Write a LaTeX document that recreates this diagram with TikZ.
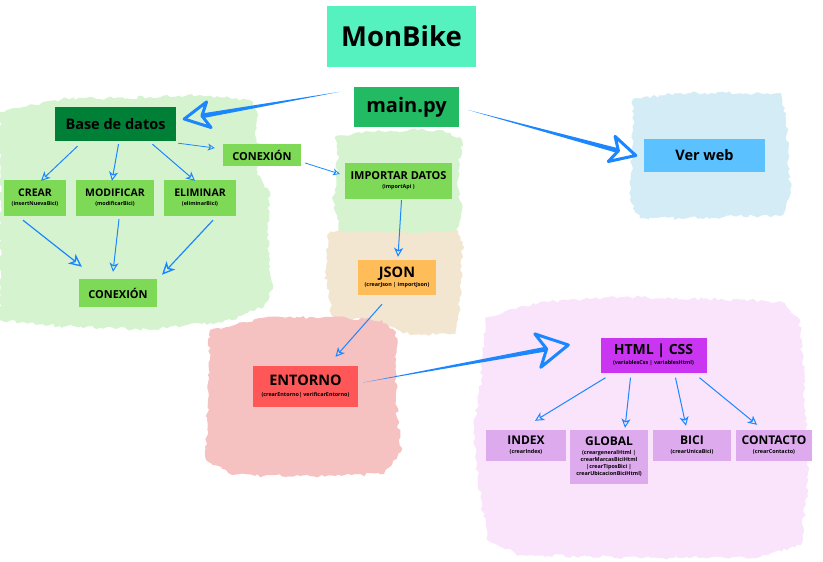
\documentclass[tikz,border=0pt]{standalone}
\usepackage{fontspec}
\setmainfont{Open Sans}
\usetikzlibrary{calc,arrows.meta,decorations.pathmorphing}
\definecolor{cMon}{HTML}{55F2C0}
\definecolor{cMain}{HTML}{23BA64}
\definecolor{cDark}{HTML}{008037}
\definecolor{cGreen}{HTML}{7ED957}
\definecolor{cWeb}{HTML}{5BC2FF}
\definecolor{cJson}{HTML}{FFBD59}
\definecolor{cEnt}{HTML}{FF5757}
\definecolor{cHtml}{HTML}{C935F0}
\definecolor{cLil}{HTML}{DDAAEE}
\definecolor{arrowblue}{HTML}{1C86FF}
\definecolor{bGreen}{HTML}{D6F3D0}
\definecolor{bBeige}{HTML}{F3E6D0}
\definecolor{bPink}{HTML}{F5C1C1}
\definecolor{bLilac}{HTML}{F9E4FC}
\definecolor{bBlue}{HTML}{D3ECF5}
\newcommand{\tinyf}{\fontsize{5.4}{6.5}\selectfont}
\newcommand{\sublbl}[1]{\\[-2pt]{\tinyf #1}}
\newcommand{\fatarrow}[5]{%
  \coordinate (fa-b) at ($(#2)!#3!(#1)$);
  \coordinate (fa-n) at ($(#2)!#5!(#1)$);
  \fill[arrowblue] (#1) -- ($(fa-n)!2.4pt!90:(#2)$) -- ($(fa-n)!2.4pt!-90:(#2)$) -- cycle;
  \draw[arrowblue,line width=3pt,line join=round] (#2) -- ($(fa-b)!#4!90:(#2)$) -- (fa-n) -- ($(fa-b)!#4!-90:(#2)$) -- cycle;
}
\tikzset{
  box/.style={inner sep=0pt, align=center, text=black, font=\bfseries},
  blob/.style={decorate, decoration={random steps, segment length=3.5pt, amplitude=1.8pt}},
  thinarrow/.style={draw=arrowblue, line width=1pt, -{Stealth[open,length=9pt,width=9pt,inset=2.5pt,line width=1pt]}},
  bigthin/.style={draw=arrowblue, line width=1.2pt, -{Stealth[open,length=13pt,width=12pt,inset=3.5pt,line width=1.4pt]}},
  smallthin/.style={draw=arrowblue, line width=0.8pt, -{Stealth[open,length=7pt,width=7pt,inset=2pt,line width=0.8pt]}},
}
\begin{document}
\begin{tikzpicture}[x=1pt,y=-1pt]
\useasboundingbox (0,0) rectangle (823,562);
\fill[white] (0,0) rectangle (823,562);
\pgfmathsetseed{11}
% blobs
\fill[bLilac,blob] (485,318) -- (540,302) -- (620,297) -- (720,299) -- (782,302) -- (800,322) -- (805,400) -- (808,480) -- (801,545) -- (760,557) -- (640,558) -- (520,555) -- (487,540) -- (478,480) -- (474,430) -- (481,380) -- cycle;
\fill[bBeige,blob] (328,234) -- (345,228) -- (455,228) -- (463,242) -- (460,300) -- (456,334) -- (410,335) -- (380,322) -- (332,316) -- (325,272) -- cycle;
\fill[bPink,blob] (210,330) -- (262,318) -- (330,317) -- (382,320) -- (396,332) -- (396,400) -- (401,452) -- (384,474) -- (300,476) -- (232,475) -- (206,460) -- (208,400) -- cycle;
\fill[bGreen,blob] (0,112) -- (40,104) -- (62,99) -- (150,97) -- (200,95) -- (250,100) -- (258,115) -- (255,135) -- (262,152) -- (257,175) -- (270,192) -- (267,232) -- (272,290) -- (264,306) -- (232,320) -- (150,330) -- (60,326) -- (0,320) -- cycle;
\fill[bGreen,blob] (336,136) -- (380,131) -- (440,130) -- (462,140) -- (458,180) -- (462,210) -- (455,232) -- (340,232) -- (333,200) -- (338,160) -- cycle;
\fill[bBlue,blob] (633,99) -- (680,93) -- (781,93) -- (786,120) -- (790,190) -- (783,215) -- (700,218) -- (640,218) -- (630,200) -- (633,140) -- cycle;
% nodes
\node[box,fill=cMon,minimum width=149pt,minimum height=61pt,font=\bfseries\fontsize{27.5}{30}\selectfont] (monbike) at (401.5,36.5) {MonBike};
\node[box,fill=cMain,minimum width=105pt,minimum height=40pt,font=\bfseries\fontsize{20}{24}\selectfont] (mainpy) at (406.5,107) {main.py};
\node[box,fill=cDark,minimum width=121pt,minimum height=34pt,font=\bfseries\fontsize{14.5}{16}\selectfont] (base) at (115.5,124) {Base de datos};
\node[box,fill=cGreen,minimum width=78pt,minimum height=22pt,font=\bfseries\fontsize{11}{12}\selectfont] (conex1) at (262,155) {CONEXIÓN};
\node[box,fill=cGreen,minimum width=62pt,minimum height=36pt,font=\bfseries\fontsize{10.5}{11}\selectfont] (crear) at (35,198) {CREAR\sublbl{(insertNuevaBici)}};
\node[box,fill=cGreen,minimum width=78pt,minimum height=36pt,font=\bfseries\fontsize{10.5}{11}\selectfont] (modif) at (115,198) {MODIFICAR\sublbl{(modificarBici)}};
\node[box,fill=cGreen,minimum width=72pt,minimum height=36pt,font=\bfseries\fontsize{10.5}{11}\selectfont] (elim) at (200,198) {ELIMINAR\sublbl{(eliminarBici)}};
\node[box,fill=cGreen,minimum width=78pt,minimum height=28pt,font=\bfseries\fontsize{11}{12}\selectfont] (conex2) at (118,293) {CONEXIÓN};
\node[box,fill=cGreen,minimum width=107pt,minimum height=36pt,font=\bfseries\fontsize{11}{11}\selectfont] (import) at (398.5,181) {IMPORTAR DATOS\sublbl{(importApi )}};
\node[box,fill=cJson,minimum width=78pt,minimum height=35pt,font=\bfseries\fontsize{14.5}{11}\selectfont] (json) at (397,277.5) {JSON\sublbl{(crearJson | importJson)}};
\node[box,fill=cEnt,minimum width=105pt,minimum height=41pt,font=\bfseries\fontsize{14.5}{13}\selectfont] (entorno) at (305.5,386.5) {ENTORNO\sublbl{(crearEntorno| verificarEntorno)}};
\node[box,fill=cHtml,minimum width=106pt,minimum height=35pt,font=\bfseries\fontsize{14}{12}\selectfont] (html) at (653.5,355) {HTML | CSS\sublbl{(variablesCss | variablesHtml)}};
\node[box,fill=cLil,minimum width=80pt,minimum height=31pt,font=\bfseries\fontsize{12}{11}\selectfont] (index) at (526,445.5) {INDEX\sublbl{(crearIndex)}};
\node[box,fill=cLil,minimum width=78pt,minimum height=54pt,font=\bfseries\fontsize{12}{11}\selectfont] (global) at (609,457) {GLOBAL\\[-2pt]\tinyf (creargeneralHtml |\\[-4pt]\tinyf crearMarcasBiciHtml\\[-4pt]\tinyf |crearTiposBici |\\[-4pt]\tinyf crearUbicacionBiciHtml)};
\node[box,fill=cLil,minimum width=78pt,minimum height=31pt,font=\bfseries\fontsize{12}{11}\selectfont] (bici) at (692,445.5) {BICI\sublbl{(crearUnicaBici)}};
\node[box,fill=cLil,minimum width=76pt,minimum height=31pt,font=\bfseries\fontsize{12}{11}\selectfont] (contacto) at (774,445.5) {CONTACTO\sublbl{(crearContacto)}};
\node[box,fill=cWeb,minimum width=121pt,minimum height=33pt,font=\bfseries\fontsize{14.5}{16}\selectfont] (verweb) at (704.5,155.5) {Ver web};
% thick arrows
\coordinate (a1s) at ([shift={(-14,5)}]mainpy.north west);
\coordinate (a1t) at ([shift={(8,-5)}]base.east);
\coordinate (a2s) at ([shift={(9,3)}]mainpy.east);
\coordinate (a2t) at ([shift={(-8,0)}]verweb.west);
\coordinate (a3s) at ([shift={(5,-4)}]entorno.east);
\coordinate (a3t) at ([shift={(-32,-10)}]html.west);
\fatarrow{a1s}{a1t}{25pt}{13pt}{18pt}
\fatarrow{a2s}{a2t}{25pt}{13pt}{18pt}
\fatarrow{a3s}{a3t}{31pt}{17pt}{22pt}
% thin arrows
\draw[thinarrow] ([shift={(-38,5)}]base.south) -- ([shift={(6,1)}]crear.north);
\draw[thinarrow] ([shift={(3,3)}]base.south) -- ([shift={(-3,1)}]modif.north);
\draw[thinarrow] ([shift={(37,3)}]base.south) -- ([shift={(-5,1)}]elim.north);
\draw[smallthin] ([shift={(2,2)}]base.south east) -- ([shift={(-8,-7)}]conex1.west);
\draw[smallthin] ([shift={(4,8)}]conex1.east) -- ([shift={(-5,-7)}]import.west);
\draw[bigthin] ([shift={(-12,4)}]crear.south) -- ([shift={(-36,-12)}]conex2.north);
\draw[thinarrow] ([shift={(4,3)}]modif.south) -- ([shift={(-5,-7)}]conex2.north);
\draw[bigthin] ([shift={(13,4)}]elim.south) -- ([shift={(44,-4)}]conex2.north);
\draw[thinarrow] ([shift={(3,1)}]import.south) -- ([shift={(1,-3)}]json.north);
\draw[thinarrow] ([shift={(-15,9)}]json.south) -- ([shift={(30,-9)}]entorno.north);
\draw[thinarrow] ([shift={(-48,5)}]html.south) -- ([shift={(9,-9)}]index.north);
\draw[thinarrow] ([shift={(-23,5)}]html.south) -- ([shift={(16,-2)}]global.north);
\draw[thinarrow] ([shift={(22,5)}]html.south) -- ([shift={(-6,-4)}]bici.north);
\draw[thinarrow] ([shift={(46,5)}]html.south) -- ([shift={(-17,-5)}]contacto.north);
\end{tikzpicture}
\end{document}
